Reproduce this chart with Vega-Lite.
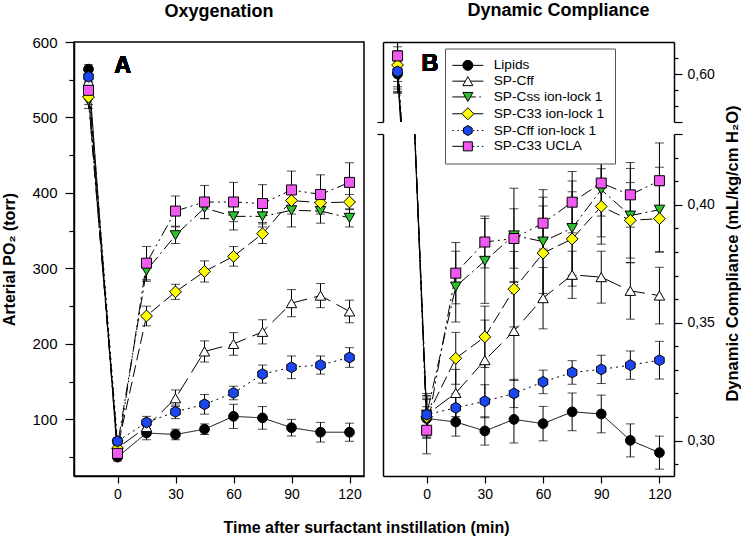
{
  "$schema": "https://vega.github.io/schema/vega-lite/v6.json",
  "padding": {"left": 1, "top": 2, "right": 1, "bottom": 0},
  "bounds": "flush",
  "spacing": 19,
  "background": "white",
  "config": {
    "font": "Liberation Sans",
    "axis": {"labelFont": "Liberation Sans", "labelFontSize": 14, "labelColor": "black", "tickColor": "black", "domainColor": "black", "domainWidth": 1.5, "tickWidth": 1.2, "titleFont": "Liberation Sans", "titleFontSize": 16, "titleFontWeight": "bold", "titleColor": "black", "grid": false, "labelOverlap": false},
    "title": {"font": "Liberation Sans", "fontSize": 18, "fontWeight": "bold", "color": "black", "anchor": "middle"},
    "legend": {"labelFont": "Liberation Sans"}
  },
  "datasets": {
    "A": [
      {"series": "Lipids", "t": -15, "v": 564, "e": 6}, {"series": "Lipids", "t": 0, "v": 50, "e": 5}, {"series": "Lipids", "t": 15, "v": 82, "e": 9}, {"series": "Lipids", "t": 30, "v": 80, "e": 7}, {"series": "Lipids", "t": 45, "v": 87, "e": 7}, {"series": "Lipids", "t": 60, "v": 104, "e": 16}, {"series": "Lipids", "t": 75, "v": 102, "e": 15}, {"series": "Lipids", "t": 90, "v": 89, "e": 11}, {"series": "Lipids", "t": 105, "v": 83, "e": 13}, {"series": "Lipids", "t": 120, "v": 83, "e": 12},
      {"series": "SP-Cff", "t": -15, "v": 548, "e": 8}, {"series": "SP-Cff", "t": 0, "v": 62, "e": 6}, {"series": "SP-Cff", "t": 15, "v": 90, "e": 8}, {"series": "SP-Cff", "t": 30, "v": 128, "e": 11}, {"series": "SP-Cff", "t": 45, "v": 190, "e": 14}, {"series": "SP-Cff", "t": 60, "v": 200, "e": 15}, {"series": "SP-Cff", "t": 75, "v": 216, "e": 16}, {"series": "SP-Cff", "t": 90, "v": 254, "e": 18}, {"series": "SP-Cff", "t": 105, "v": 264, "e": 16}, {"series": "SP-Cff", "t": 120, "v": 243, "e": 15},
      {"series": "SP-Css ion-lock 1", "t": -15, "v": 522, "e": 10}, {"series": "SP-Css ion-lock 1", "t": 0, "v": 66, "e": 8}, {"series": "SP-Css ion-lock 1", "t": 15, "v": 297, "e": 14}, {"series": "SP-Css ion-lock 1", "t": 30, "v": 344, "e": 11}, {"series": "SP-Css ion-lock 1", "t": 45, "v": 380, "e": 14}, {"series": "SP-Css ion-lock 1", "t": 60, "v": 369, "e": 18}, {"series": "SP-Css ion-lock 1", "t": 75, "v": 369, "e": 14}, {"series": "SP-Css ion-lock 1", "t": 90, "v": 377, "e": 22}, {"series": "SP-Css ion-lock 1", "t": 105, "v": 376, "e": 16}, {"series": "SP-Css ion-lock 1", "t": 120, "v": 367, "e": 12},
      {"series": "SP-C33 ion-lock 1", "t": -15, "v": 527, "e": 10}, {"series": "SP-C33 ion-lock 1", "t": 0, "v": 62, "e": 6}, {"series": "SP-C33 ion-lock 1", "t": 15, "v": 237, "e": 13}, {"series": "SP-C33 ion-lock 1", "t": 30, "v": 269, "e": 10}, {"series": "SP-C33 ion-lock 1", "t": 45, "v": 296, "e": 14}, {"series": "SP-C33 ion-lock 1", "t": 60, "v": 316, "e": 13}, {"series": "SP-C33 ion-lock 1", "t": 75, "v": 346, "e": 13}, {"series": "SP-C33 ion-lock 1", "t": 90, "v": 390, "e": 18}, {"series": "SP-C33 ion-lock 1", "t": 105, "v": 387, "e": 12}, {"series": "SP-C33 ion-lock 1", "t": 120, "v": 388, "e": 10},
      {"series": "SP-Cff ion-lock 1", "t": -15, "v": 554, "e": 8}, {"series": "SP-Cff ion-lock 1", "t": 0, "v": 71, "e": 5}, {"series": "SP-Cff ion-lock 1", "t": 15, "v": 96, "e": 8}, {"series": "SP-Cff ion-lock 1", "t": 30, "v": 110, "e": 9}, {"series": "SP-Cff ion-lock 1", "t": 45, "v": 120, "e": 13}, {"series": "SP-Cff ion-lock 1", "t": 60, "v": 135, "e": 9}, {"series": "SP-Cff ion-lock 1", "t": 75, "v": 160, "e": 12}, {"series": "SP-Cff ion-lock 1", "t": 90, "v": 169, "e": 15}, {"series": "SP-Cff ion-lock 1", "t": 105, "v": 172, "e": 12}, {"series": "SP-Cff ion-lock 1", "t": 120, "v": 182, "e": 13},
      {"series": "SP-C33 UCLA", "t": -15, "v": 536, "e": 12}, {"series": "SP-C33 UCLA", "t": 0, "v": 55, "e": 6}, {"series": "SP-C33 UCLA", "t": 15, "v": 307, "e": 22}, {"series": "SP-C33 UCLA", "t": 30, "v": 376, "e": 20}, {"series": "SP-C33 UCLA", "t": 45, "v": 388, "e": 22}, {"series": "SP-C33 UCLA", "t": 60, "v": 388, "e": 26}, {"series": "SP-C33 UCLA", "t": 75, "v": 386, "e": 25}, {"series": "SP-C33 UCLA", "t": 90, "v": 404, "e": 25}, {"series": "SP-C33 UCLA", "t": 105, "v": 398, "e": 26}, {"series": "SP-C33 UCLA", "t": 120, "v": 414, "e": 26}
    ],
    "B": [
      {"series": "Lipids", "t": -15, "v": 0.600, "e": 0.012}, {"series": "Lipids", "t": 0, "v": 0.3094, "e": 0.008}, {"series": "Lipids", "t": 15, "v": 0.3079, "e": 0.006}, {"series": "Lipids", "t": 30, "v": 0.3041, "e": 0.006}, {"series": "Lipids", "t": 45, "v": 0.309, "e": 0.010}, {"series": "Lipids", "t": 60, "v": 0.3072, "e": 0.0073}, {"series": "Lipids", "t": 75, "v": 0.3122, "e": 0.008}, {"series": "Lipids", "t": 90, "v": 0.3113, "e": 0.008}, {"series": "Lipids", "t": 105, "v": 0.3001, "e": 0.007}, {"series": "Lipids", "t": 120, "v": 0.2949, "e": 0.007},
      {"series": "SP-Cff", "t": -15, "v": 0.603, "e": 0.014}, {"series": "SP-Cff", "t": 0, "v": 0.311, "e": 0.008}, {"series": "SP-Cff", "t": 15, "v": 0.3202, "e": 0.010}, {"series": "SP-Cff", "t": 30, "v": 0.3341, "e": 0.017}, {"series": "SP-Cff", "t": 45, "v": 0.3465, "e": 0.021}, {"series": "SP-Cff", "t": 60, "v": 0.3604, "e": 0.013}, {"series": "SP-Cff", "t": 75, "v": 0.3703, "e": 0.010}, {"series": "SP-Cff", "t": 90, "v": 0.3693, "e": 0.011}, {"series": "SP-Cff", "t": 105, "v": 0.3635, "e": 0.012}, {"series": "SP-Cff", "t": 120, "v": 0.3615, "e": 0.012},
      {"series": "SP-Css ion-lock 1", "t": -15, "v": 0.607, "e": 0.015}, {"series": "SP-Css ion-lock 1", "t": 0, "v": 0.311, "e": 0.009}, {"series": "SP-Css ion-lock 1", "t": 15, "v": 0.3653, "e": 0.015}, {"series": "SP-Css ion-lock 1", "t": 30, "v": 0.3762, "e": 0.018}, {"series": "SP-Css ion-lock 1", "t": 45, "v": 0.387, "e": 0.020}, {"series": "SP-Css ion-lock 1", "t": 60, "v": 0.3844, "e": 0.022}, {"series": "SP-Css ion-lock 1", "t": 75, "v": 0.3901, "e": 0.020}, {"series": "SP-Css ion-lock 1", "t": 90, "v": 0.4064, "e": 0.020}, {"series": "SP-Css ion-lock 1", "t": 105, "v": 0.3954, "e": 0.020}, {"series": "SP-Css ion-lock 1", "t": 120, "v": 0.3979, "e": 0.018},
      {"series": "SP-C33 ion-lock 1", "t": -15, "v": 0.6056, "e": 0.015}, {"series": "SP-C33 ion-lock 1", "t": 0, "v": 0.310, "e": 0.009}, {"series": "SP-C33 ion-lock 1", "t": 15, "v": 0.3349, "e": 0.011}, {"series": "SP-C33 ion-lock 1", "t": 30, "v": 0.344, "e": 0.013}, {"series": "SP-C33 ion-lock 1", "t": 45, "v": 0.3642, "e": 0.016}, {"series": "SP-C33 ion-lock 1", "t": 60, "v": 0.3795, "e": 0.020}, {"series": "SP-C33 ion-lock 1", "t": 75, "v": 0.3855, "e": 0.020}, {"series": "SP-C33 ion-lock 1", "t": 90, "v": 0.3993, "e": 0.016}, {"series": "SP-C33 ion-lock 1", "t": 105, "v": 0.3934, "e": 0.016}, {"series": "SP-C33 ion-lock 1", "t": 120, "v": 0.3941, "e": 0.014},
      {"series": "SP-Cff ion-lock 1", "t": -15, "v": 0.6016, "e": 0.013}, {"series": "SP-Cff ion-lock 1", "t": 0, "v": 0.311, "e": 0.007}, {"series": "SP-Cff ion-lock 1", "t": 15, "v": 0.3139, "e": 0.006}, {"series": "SP-Cff ion-lock 1", "t": 30, "v": 0.3167, "e": 0.007}, {"series": "SP-Cff ion-lock 1", "t": 45, "v": 0.32, "e": 0.006}, {"series": "SP-Cff ion-lock 1", "t": 60, "v": 0.3249, "e": 0.005}, {"series": "SP-Cff ion-lock 1", "t": 75, "v": 0.3289, "e": 0.005}, {"series": "SP-Cff ion-lock 1", "t": 90, "v": 0.3302, "e": 0.006}, {"series": "SP-Cff ion-lock 1", "t": 105, "v": 0.332, "e": 0.006}, {"series": "SP-Cff ion-lock 1", "t": 120, "v": 0.3341, "e": 0.008},
      {"series": "SP-C33 UCLA", "t": -15, "v": 0.6113, "e": 0.016}, {"series": "SP-C33 UCLA", "t": 0, "v": 0.3044, "e": 0.010}, {"series": "SP-C33 UCLA", "t": 15, "v": 0.371, "e": 0.013}, {"series": "SP-C33 UCLA", "t": 30, "v": 0.3842, "e": 0.011}, {"series": "SP-C33 UCLA", "t": 45, "v": 0.3857, "e": 0.0126}, {"series": "SP-C33 UCLA", "t": 60, "v": 0.3922, "e": 0.011}, {"series": "SP-C33 UCLA", "t": 75, "v": 0.4011, "e": 0.013}, {"series": "SP-C33 UCLA", "t": 90, "v": 0.4092, "e": 0.014}, {"series": "SP-C33 UCLA", "t": 105, "v": 0.4042, "e": 0.0137}, {"series": "SP-C33 UCLA", "t": 120, "v": 0.4102, "e": 0.016}
    ]
  },
  "hconcat": [
    {
      "title": {"text": "Oxygenation", "offset": 14},
      "width": 290,
      "height": 434,
      "view": {"stroke": "black", "strokeWidth": 1.5},
      "data": {"name": "A"},
      "encoding": {
        "x": {"field": "t", "type": "quantitative", "scale": {"domain": [-22.5, 127.5], "nice": false, "zero": false}, "axis": null},
        "y": {"field": "v", "type": "quantitative", "scale": {"domain": [25, 600], "nice": false, "zero": false}, "axis": null}
      },
      "layer": [
        {"mark": {"type": "errorbar", "color": "black", "ticks": {"size": 9, "color": "black", "clip": true}, "rule": {"color": "black", "strokeWidth": 1, "clip": true}}, "encoding": {"yError": {"field": "e"}}},
        {"mark": {"type": "line", "clip": true, "color": "black", "strokeWidth": 1},
          "encoding": {
            "x": {"field": "t", "type": "quantitative", "scale": {"domain": [-22.5, 127.5], "nice": false, "zero": false},
              "axis": {"orient": "bottom", "values": [0, 30, 60, 90, 120], "tickSize": 7, "labelPadding": 4, "title": "Time after surfactant instillation (min)", "titleX": 292, "titleY": 51, "titleAlign": "center", "titleBaseline": "middle"}},
            "y": {"field": "v", "type": "quantitative", "scale": {"domain": [25, 600], "nice": false, "zero": false},
              "axis": {"orient": "left", "values": [50, 100, 150, 200, 250, 300, 350, 400, 450, 500, 550, 600], "tickSize": {"condition": {"test": "datum.value % 100 == 0", "value": 9}, "value": 5}, "labelExpr": "datum.value % 100 == 0 ? datum.label : ''", "labelPadding": 8, "labelFontSize": 15, "title": "Arterial PO₂ (torr)", "titlePadding": 14}},
            "strokeDash": {"field": "series", "type": "nominal", "legend": null, "scale": {"domain": ["SP-C33 UCLA", "SP-Cff ion-lock 1", "SP-C33 ion-lock 1", "SP-Css ion-lock 1", "SP-Cff", "Lipids"], "range": [[12, 4, 2, 4, 2, 4], [2, 4], [12, 5], [12, 4, 2, 4], [18, 7], [1, 0]]}}}},
        {"transform": [{"filter": "datum.series==='Lipids'"}], "mark": {"type": "point", "shape": "circle", "filled": true, "fill": "#000000", "stroke": "#000000", "strokeWidth": 1, "size": 95, "opacity": 1, "clip": true}},
        {"transform": [{"filter": "datum.series==='SP-Cff'"}], "mark": {"type": "point", "shape": "triangle-up", "filled": true, "fill": "#ffffff", "stroke": "#000000", "strokeWidth": 1, "size": 110, "opacity": 1, "clip": true}},
        {"transform": [{"filter": "datum.series==='SP-Css ion-lock 1'"}], "mark": {"type": "point", "shape": "triangle-down", "filled": true, "fill": "#2ec12e", "stroke": "#000000", "strokeWidth": 1, "size": 110, "opacity": 1, "clip": true}},
        {"transform": [{"filter": "datum.series==='SP-C33 ion-lock 1'"}], "mark": {"type": "point", "shape": "diamond", "filled": true, "fill": "#ffff00", "stroke": "#000000", "strokeWidth": 1, "size": 140, "opacity": 1, "clip": true}},
        {"transform": [{"filter": "datum.series==='SP-Cff ion-lock 1'"}], "mark": {"type": "point", "shape": "M0,-1L0.866,-0.5L0.866,0.5L0,1L-0.866,0.5L-0.866,-0.5Z", "filled": true, "fill": "#1c46ef", "stroke": "#000000", "strokeWidth": 1, "size": 120, "opacity": 1, "clip": true}},
        {"transform": [{"filter": "datum.series==='SP-C33 UCLA'"}], "mark": {"type": "point", "shape": "square", "filled": true, "fill": "#f05af0", "stroke": "#000000", "strokeWidth": 1, "size": 100, "opacity": 1, "clip": true}},
        {"mark": {"type": "text", "text": "A", "fontSize": 23, "fontWeight": "bold", "align": "left", "baseline": "alphabetic", "color": "black"},
          "encoding": {"x": {"datum": -1.5, "type": "quantitative", "axis": null}, "y": {"datum": 559, "type": "quantitative", "axis": null}}}
      ],
      "resolve": {"axis": {"x": "independent", "y": "independent"}}
    },
    {
      "title": {"text": "Dynamic Compliance", "offset": 22},
      "bounds": "flush",
      "spacing": 12,
      "data": {"name": "B"},
      "vconcat": [
        {
          "width": 291,
          "height": 80,
          "view": {"stroke": null},
          "encoding": {
            "x": {"field": "t", "type": "quantitative", "scale": {"domain": [-22.5, 127.5], "nice": false, "zero": false}, "axis": null},
            "y": {"field": "v", "type": "quantitative", "scale": {"domain": [0.57, 0.62], "nice": false, "zero": false}, "axis": null}
          },
          "layer": [
            {"mark": {"type": "errorbar", "color": "black", "ticks": {"size": 9, "color": "black", "clip": true}, "rule": {"color": "black", "strokeWidth": 1, "clip": true}}, "encoding": {"yError": {"field": "e"}}},
            {"mark": {"type": "line", "clip": true, "color": "black", "strokeWidth": 1},
              "encoding": {
                "x": {"field": "t", "type": "quantitative", "scale": {"domain": [-22.5, 127.5], "nice": false, "zero": false},
                  "axis": {"orient": "top", "labels": false, "ticks": false, "title": null, "domain": true}},
                "y": {"field": "v", "type": "quantitative", "scale": {"domain": [0.57, 0.62], "nice": false, "zero": false},
                  "axis": {"orient": "left", "values": [0.57], "tickSize": 6, "labels": false, "title": null, "domain": true}},
                "strokeDash": {"field": "series", "type": "nominal", "legend": null, "scale": {"domain": ["SP-C33 UCLA", "SP-Cff ion-lock 1", "SP-C33 ion-lock 1", "SP-Css ion-lock 1", "SP-Cff", "Lipids"], "range": [[12, 4, 2, 4, 2, 4], [2, 4], [12, 5], [12, 4, 2, 4], [18, 7], [1, 0]]}}}},
            {"transform": [{"filter": "datum.series==='Lipids'"}], "mark": {"type": "point", "shape": "circle", "filled": true, "fill": "#000000", "stroke": "#000000", "strokeWidth": 1, "size": 95, "opacity": 1, "clip": true},
              "encoding": {"y": {"field": "v", "type": "quantitative", "scale": {"domain": [0.57, 0.62], "nice": false, "zero": false},
                "axis": {"orient": "right", "values": [0.57, 0.58, 0.59, 0.6, 0.61], "tickSize": {"condition": {"test": "abs(datum.value-0.6)<0.001 || datum.value<0.575", "value": 8}, "value": 4}, "labelExpr": "abs(datum.value-0.6)<0.001 ? '0,60' : ''", "labelPadding": 5, "title": null, "domain": true}}}},
            {"transform": [{"filter": "datum.series==='SP-Cff'"}], "mark": {"type": "point", "shape": "triangle-up", "filled": true, "fill": "#ffffff", "stroke": "#000000", "strokeWidth": 1, "size": 110, "opacity": 1, "clip": true}},
            {"transform": [{"filter": "datum.series==='SP-Css ion-lock 1'"}], "mark": {"type": "point", "shape": "triangle-down", "filled": true, "fill": "#2ec12e", "stroke": "#000000", "strokeWidth": 1, "size": 110, "opacity": 1, "clip": true}},
            {"transform": [{"filter": "datum.series==='SP-C33 ion-lock 1'"}], "mark": {"type": "point", "shape": "diamond", "filled": true, "fill": "#ffff00", "stroke": "#000000", "strokeWidth": 1, "size": 140, "opacity": 1, "clip": true}},
            {"transform": [{"filter": "datum.series==='SP-Cff ion-lock 1'"}], "mark": {"type": "point", "shape": "M0,-1L0.866,-0.5L0.866,0.5L0,1L-0.866,0.5L-0.866,-0.5Z", "filled": true, "fill": "#1c46ef", "stroke": "#000000", "strokeWidth": 1, "size": 120, "opacity": 1, "clip": true}},
            {"transform": [{"filter": "datum.series==='SP-C33 UCLA'"}], "mark": {"type": "point", "shape": "square", "filled": true, "fill": "#f05af0", "stroke": "#000000", "strokeWidth": 1, "size": 100, "opacity": 1, "clip": true}},
            {"mark": {"type": "text", "text": "B", "fontSize": 23, "fontWeight": "bold", "align": "left", "baseline": "alphabetic", "color": "black"},
              "encoding": {"x": {"datum": -2.5, "type": "quantitative", "axis": null}, "y": {"datum": 0.602, "type": "quantitative", "axis": null}}}
          ],
          "resolve": {"axis": {"x": "independent", "y": "independent"}}
        },
        {
          "width": 291,
          "height": 342,
          "view": {"stroke": null},
          "encoding": {
            "x": {"field": "t", "type": "quantitative", "scale": {"domain": [-22.5, 127.5], "nice": false, "zero": false}, "axis": null},
            "y": {"field": "v", "type": "quantitative", "scale": {"domain": [0.285, 0.43], "nice": false, "zero": false}, "axis": null}
          },
          "layer": [
            {"mark": {"type": "errorbar", "color": "black", "ticks": {"size": 9, "color": "black", "clip": true}, "rule": {"color": "black", "strokeWidth": 1, "clip": true}}, "encoding": {"yError": {"field": "e"}}},
            {"mark": {"type": "line", "clip": true, "color": "black", "strokeWidth": 1},
              "encoding": {
                "x": {"field": "t", "type": "quantitative", "scale": {"domain": [-22.5, 127.5], "nice": false, "zero": false},
                  "axis": {"orient": "bottom", "values": [0, 30, 60, 90, 120], "tickSize": 7, "labelPadding": 4, "title": null}},
                "y": {"field": "v", "type": "quantitative", "scale": {"domain": [0.285, 0.43], "nice": false, "zero": false},
                  "axis": {"orient": "left", "values": [0.43], "tickSize": 6, "labels": false, "title": null, "domain": true}},
                "strokeDash": {"field": "series", "type": "nominal", "legend": null, "scale": {"domain": ["SP-C33 UCLA", "SP-Cff ion-lock 1", "SP-C33 ion-lock 1", "SP-Css ion-lock 1", "SP-Cff", "Lipids"], "range": [[12, 4, 2, 4, 2, 4], [2, 4], [12, 5], [12, 4, 2, 4], [18, 7], [1, 0]]}}}},
            {"transform": [{"filter": "datum.series==='Lipids'"}], "mark": {"type": "point", "shape": "circle", "filled": true, "fill": "#000000", "stroke": "#000000", "strokeWidth": 1, "size": 95, "opacity": 1, "clip": true},
              "encoding": {"y": {"field": "v", "type": "quantitative", "scale": {"domain": [0.285, 0.43], "nice": false, "zero": false},
                "axis": {"orient": "right", "values": [0.29, 0.3, 0.31, 0.32, 0.33, 0.34, 0.35, 0.36, 0.37, 0.38, 0.39, 0.4, 0.41, 0.42, 0.43], "tickSize": {"condition": {"test": "round(datum.value*100) % 5 == 0 || datum.value > 0.425", "value": 8}, "value": 4}, "labelExpr": "round(datum.value*100) % 5 == 0 && datum.value < 0.425 ? replace(format(datum.value, '.2f'), '.', ',') : ''", "labelPadding": 5, "title": "Dynamic Compliance (mL/kg/cm H₂O)", "titleFontSize": 16.5, "titleAngle": 270, "titleY": 119, "titlePadding": 26, "domain": true}}}},
            {"transform": [{"filter": "datum.series==='SP-Cff'"}], "mark": {"type": "point", "shape": "triangle-up", "filled": true, "fill": "#ffffff", "stroke": "#000000", "strokeWidth": 1, "size": 110, "opacity": 1, "clip": true}},
            {"transform": [{"filter": "datum.series==='SP-Css ion-lock 1'"}], "mark": {"type": "point", "shape": "triangle-down", "filled": true, "fill": "#2ec12e", "stroke": "#000000", "strokeWidth": 1, "size": 110, "opacity": 1, "clip": true}},
            {"transform": [{"filter": "datum.series==='SP-C33 ion-lock 1'"}], "mark": {"type": "point", "shape": "diamond", "filled": true, "fill": "#ffff00", "stroke": "#000000", "strokeWidth": 1, "size": 140, "opacity": 1, "clip": true}},
            {"transform": [{"filter": "datum.series==='SP-Cff ion-lock 1'"}], "mark": {"type": "point", "shape": "M0,-1L0.866,-0.5L0.866,0.5L0,1L-0.866,0.5L-0.866,-0.5Z", "filled": true, "fill": "#1c46ef", "stroke": "#000000", "strokeWidth": 1, "size": 120, "opacity": 1, "clip": true}},
            {"transform": [{"filter": "datum.series==='SP-C33 UCLA'"}], "mark": {"type": "point", "shape": "square", "filled": true, "fill": "#f05af0", "stroke": "#000000", "strokeWidth": 1, "size": 100, "opacity": 1, "clip": true}},
            {"mark": {"type": "point", "filled": true, "strokeWidth": 1, "size": 0, "opacity": 1, "clip": true},
              "encoding": {
                "shape": {"field": "series", "type": "nominal",
                  "scale": {"domain": ["Lipids", "SP-Cff", "SP-Css ion-lock 1", "SP-C33 ion-lock 1", "SP-Cff ion-lock 1", "SP-C33 UCLA"],
                    "range": [
                      "M-3.1,0L-1,0M1,0L3.1,0M-1,0A1,1,0,1,1,1,0A1,1,0,1,1,-1,0Z",
                      "M-3.1,0L-0.5,0M0.5,0L3.1,0M0,-0.9L1,0.9L-1,0.9Z",
                      "M-3.1,0L-0.5,0M0.5,0L1.6,0M2.3,0L2.6,0M0,0.9L1,-0.9L-1,-0.9Z",
                      "M-3.1,0L-1.2,0M1.2,0L3.1,0M-1.2,0L0,-1.2L1.2,0L0,1.2Z",
                      "M-3.1,0L-2.8,0M-2.1,0L-1.8,0M-1.3,0L-1,0M1,0L1.3,0M1.8,0L2.1,0M2.8,0L3.1,0M0,-1L0.866,-0.5L0.866,0.5L0,1L-0.866,0.5L-0.866,-0.5Z",
                      "M-3.1,0L-0.9,0M0.9,0L1.3,0M1.9,0L2.2,0M2.8,0L3.1,0M-0.9,-0.9L0.9,-0.9L0.9,0.9L-0.9,0.9Z"
                    ]},
                  "legend": {"orient": "none", "legendX": 371, "legendY": 6.5, "title": null, "labelFontSize": 13.7, "labelColor": "black", "symbolSize": 100, "symbolStrokeWidth": 1, "strokeColor": "#555555", "fillColor": "white", "padding": 10, "rowPadding": 0.8, "labelOffset": 19, "symbolOffset": 6}},
                "fill": {"field": "series", "type": "nominal",
                  "scale": {"domain": ["Lipids", "SP-Cff", "SP-Css ion-lock 1", "SP-C33 ion-lock 1", "SP-Cff ion-lock 1", "SP-C33 UCLA"],
                    "range": ["#000000", "#ffffff", "#2ec12e", "#ffff00", "#1c46ef", "#f05af0"]},
                  "legend": {"orient": "none", "legendX": 371, "legendY": 6.5, "title": null, "labelFontSize": 13.7, "labelColor": "black", "symbolSize": 100, "symbolStrokeWidth": 1, "strokeColor": "#555555", "fillColor": "white", "padding": 10, "rowPadding": 0.8, "labelOffset": 19, "symbolOffset": 6}},
                "stroke": {"field": "series", "type": "nominal",
                  "scale": {"domain": ["Lipids", "SP-Cff", "SP-Css ion-lock 1", "SP-C33 ion-lock 1", "SP-Cff ion-lock 1", "SP-C33 UCLA"],
                    "range": ["#000000", "#000000", "#000000", "#000000", "#000000", "#000000"]},
                  "legend": {"orient": "none", "legendX": 371, "legendY": 6.5, "title": null, "labelFontSize": 13.7, "labelColor": "black", "symbolSize": 100, "symbolStrokeWidth": 1, "strokeColor": "#555555", "fillColor": "white", "padding": 10, "rowPadding": 0.8, "labelOffset": 19, "symbolOffset": 6}}
              }}
          ],
          "resolve": {"axis": {"x": "independent", "y": "independent"}}
        }
      ]
    }
  ]
}
